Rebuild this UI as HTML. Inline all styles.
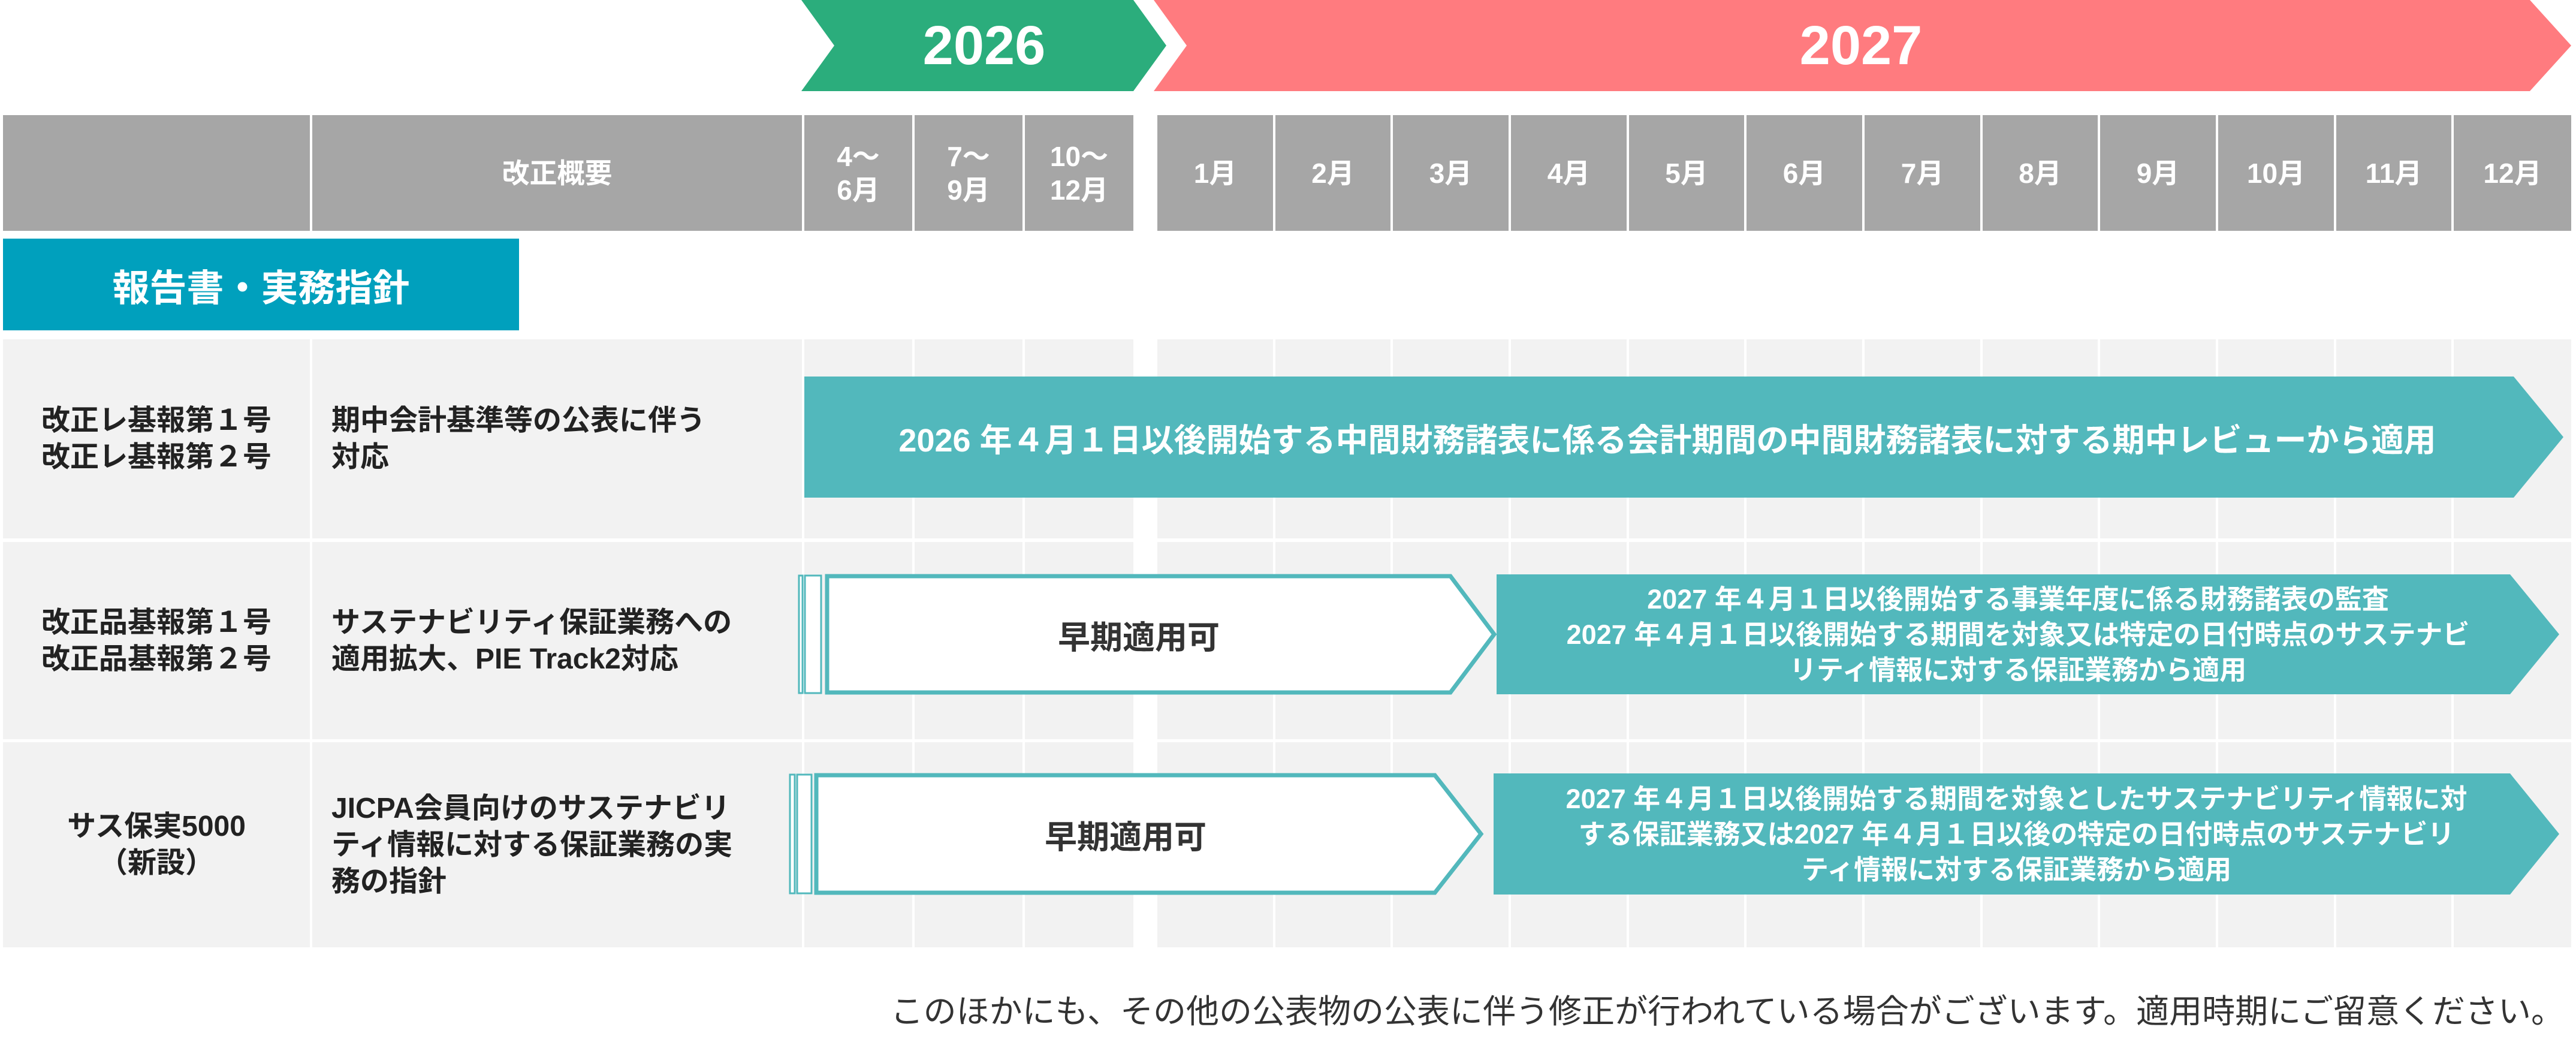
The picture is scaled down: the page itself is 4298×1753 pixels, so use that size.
<!DOCTYPE html>
<html><head><meta charset="utf-8"><style>
body{margin:0;width:4298px;height:1753px;position:relative;background:#fff;overflow:hidden;font-family:"Liberation Sans","Noto Sans CJK JP",sans-serif;font-weight:bold}
.a{position:absolute}
.t{position:absolute;display:flex;align-items:center;justify-content:center;text-align:center}
.h{color:#fff;font-size:46px;line-height:56px}
.k{color:#222;font-size:48px;line-height:61px}
.l{color:#222;font-size:48px;line-height:61px;text-align:left;justify-content:flex-start}
</style></head><body>
<svg class="a" style="left:0;top:0" width="4298" height="1753">
<polygon points="1337,0 1891,0 1946,76 1891,152 1337,152 1392,76" fill="#2bad7c"/>
<polygon points="1925,0 4221,0 4290,76 4221,152 1925,152 1980,76" fill="#ff7b7f"/>
<rect x="5" y="192" width="4285" height="193" fill="#a6a6a6"/>
<rect x="5" y="566" width="4285" height="332" fill="#f2f2f2"/>
<rect x="5" y="904" width="4285" height="329" fill="#f2f2f2"/>
<rect x="5" y="1238" width="4285" height="342" fill="#f2f2f2"/>
<g fill="#fff">
<rect x="517" y="192" width="4" height="1390"/>
<rect x="1338" y="192" width="4" height="1390"/>
<rect x="1522" y="192" width="4" height="1390"/>
<rect x="1706" y="192" width="4" height="1390"/>
<rect x="1891" y="192" width="40" height="1390"/>
<rect x="2124" y="192" width="4" height="1390"/>
<rect x="2320" y="192" width="4" height="1390"/>
<rect x="2517" y="192" width="4" height="1390"/>
<rect x="2714" y="192" width="4" height="1390"/>
<rect x="2910" y="192" width="4" height="1390"/>
<rect x="3107" y="192" width="4" height="1390"/>
<rect x="3304" y="192" width="4" height="1390"/>
<rect x="3500" y="192" width="4" height="1390"/>
<rect x="3697" y="192" width="4" height="1390"/>
<rect x="3894" y="192" width="4" height="1390"/>
<rect x="4090" y="192" width="4" height="1390"/>
</g>
<rect x="5" y="398" width="861" height="153" fill="#00a0bd"/>
<polygon points="1342,628 4194,628 4277,729 4194,830 1342,830" fill="#52b8bc"/>
<rect x="1333" y="960" width="6" height="196" fill="#fff" stroke="#52b8bc" stroke-width="3"/>
<rect x="1343" y="960" width="27" height="196" fill="#fff" stroke="#52b8bc" stroke-width="3"/>
<polygon points="1380,961 2420,961 2493,1058 2420,1155 1380,1155" fill="#fff" stroke="#52b8bc" stroke-width="7"/>
<polygon points="2497,958 4188,958 4270,1058 4188,1158 2497,1158" fill="#52b8bc"/>
<rect x="1318" y="1292" width="8" height="198" fill="#fff" stroke="#52b8bc" stroke-width="3"/>
<rect x="1330" y="1292" width="24" height="198" fill="#fff" stroke="#52b8bc" stroke-width="3"/>
<polygon points="1362,1293 2394,1293 2471,1391 2394,1489 1362,1489" fill="#fff" stroke="#52b8bc" stroke-width="7"/>
<polygon points="2492,1290 4188,1290 4270,1391 4188,1492 2492,1492" fill="#52b8bc"/>
</svg>
<div class="t" style="left:1392px;top:0;width:500px;height:152px;color:#fff;font-size:92px">2026</div>
<div class="t" style="left:1980px;top:0;width:2250px;height:152px;color:#fff;font-size:92px">2027</div>
<div class="t h" style="left:521px;top:192px;width:817px;height:193px">改正概要</div>
<div class="t h" style="left:1342px;top:192px;width:180px;height:193px">4～<br>6月</div>
<div class="t h" style="left:1526px;top:192px;width:180px;height:193px">7～<br>9月</div>
<div class="t h" style="left:1710px;top:192px;width:181px;height:193px">10～<br>12月</div>
<div class="t h" style="left:1931px;top:192px;width:193px;height:193px">1月</div>
<div class="t h" style="left:2128px;top:192px;width:192px;height:193px">2月</div>
<div class="t h" style="left:2324px;top:192px;width:193px;height:193px">3月</div>
<div class="t h" style="left:2521px;top:192px;width:193px;height:193px">4月</div>
<div class="t h" style="left:2718px;top:192px;width:192px;height:193px">5月</div>
<div class="t h" style="left:2914px;top:192px;width:193px;height:193px">6月</div>
<div class="t h" style="left:3111px;top:192px;width:193px;height:193px">7月</div>
<div class="t h" style="left:3308px;top:192px;width:192px;height:193px">8月</div>
<div class="t h" style="left:3504px;top:192px;width:193px;height:193px">9月</div>
<div class="t h" style="left:3701px;top:192px;width:193px;height:193px">10月</div>
<div class="t h" style="left:3898px;top:192px;width:192px;height:193px">11月</div>
<div class="t h" style="left:4094px;top:192px;width:196px;height:193px">12月</div>
<div class="t" style="left:5px;top:398px;width:861px;height:153px;color:#fff;font-size:62px">報告書・実務指針</div>
<div class="t k" style="left:5px;top:566px;width:512px;height:332px">改正レ基報第１号<br>改正レ基報第２号</div>
<div class="t l" style="left:553px;top:566px;width:780px;height:332px">期中会計基準等の公表に伴う<br>対応</div>
<div class="t k" style="left:5px;top:904px;width:512px;height:329px">改正品基報第１号<br>改正品基報第２号</div>
<div class="t l" style="left:553px;top:904px;width:780px;height:329px">サステナビリティ保証業務への<br>適用拡大、PIE Track2対応</div>
<div class="t k" style="left:5px;top:1238px;width:512px;height:342px">サス保実5000<br>（新設）</div>
<div class="t l" style="left:553px;top:1238px;width:780px;height:342px">JICPA会員向けのサステナビリ<br>ティ情報に対する保証業務の実<br>務の指針</div>
<div class="t" style="left:1342px;top:628px;width:2880px;height:202px;color:#fff;font-size:54px">2026 年４月１日以後開始する中間財務諸表に係る会計期間の中間財務諸表に対する期中レビューから適用</div>
<div class="t" style="left:1380px;top:958px;width:1040px;height:200px;color:#333;font-size:54px">早期適用可</div>
<div class="t" style="left:2497px;top:958px;width:1740px;height:200px;color:#fff;font-size:45px;line-height:59px">2027 年４月１日以後開始する事業年度に係る財務諸表の監査<br>2027 年４月１日以後開始する期間を対象又は特定の日付時点のサステナビ<br>リティ情報に対する保証業務から適用</div>
<div class="t" style="left:1362px;top:1290px;width:1032px;height:202px;color:#333;font-size:54px">早期適用可</div>
<div class="t" style="left:2492px;top:1290px;width:1745px;height:202px;color:#fff;font-size:45px;line-height:59px">2027 年４月１日以後開始する期間を対象としたサステナビリティ情報に対<br>する保証業務又は2027 年４月１日以後の特定の日付時点のサステナビリ<br>ティ情報に対する保証業務から適用</div>
<div class="a" style="right:20px;top:1655px;color:#333;font-size:55px;line-height:64px;white-space:nowrap;font-weight:normal">このほかにも、その他の公表物の公表に伴う修正が行われている場合がございます。適用時期にご留意ください。</div>
</body></html>
